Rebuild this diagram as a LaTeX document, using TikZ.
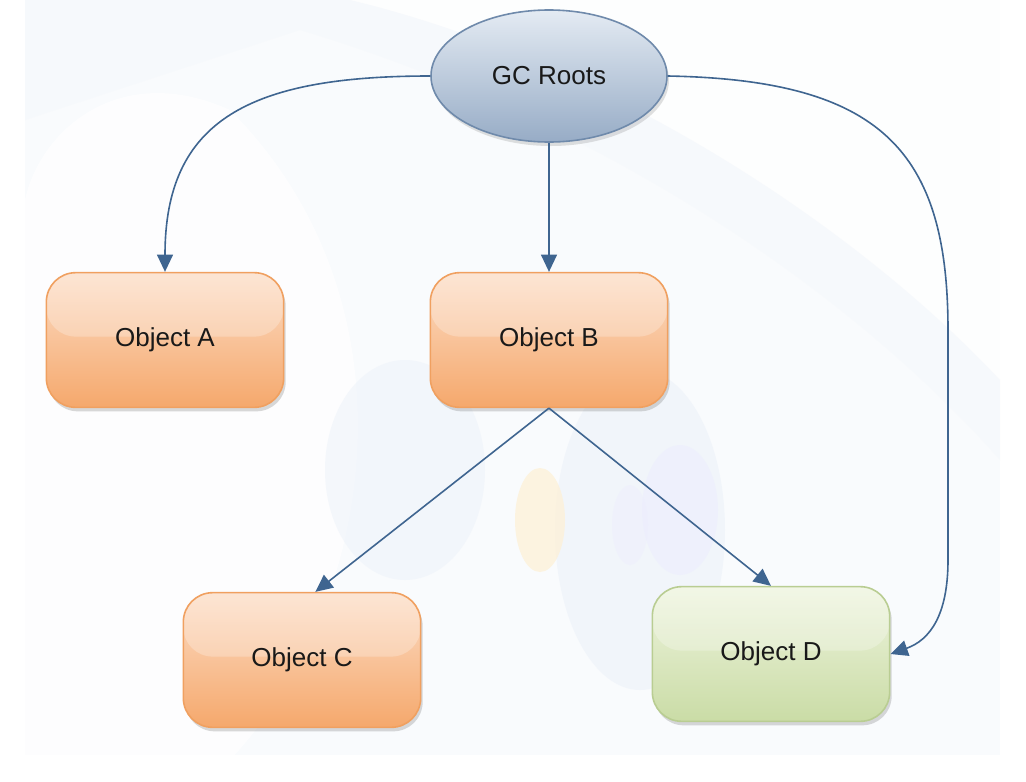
\documentclass[tikz,border=0pt]{standalone}
\usepackage{fontspec}
\setmainfont{Liberation Sans}
\usetikzlibrary{shapes.geometric,arrows.meta,shadows}
\definecolor{linec}{HTML}{3F6590}
\definecolor{ellb}{HTML}{6F8AAB}
\definecolor{ellt}{HTML}{E4EBF3}
\definecolor{ellbot}{HTML}{97ACC6}
\definecolor{orb}{HTML}{F0A060}
\definecolor{ort}{HTML}{FCDDC6}
\definecolor{orbot}{HTML}{F5A86C}
\definecolor{grb}{HTML}{B9CD92}
\definecolor{grt}{HTML}{EEF4DE}
\definecolor{grbot}{HTML}{CADCA6}
\definecolor{bgblue}{HTML}{EEF3FA}
\tikzset{
  lbl/.style={font=\fontsize{19.5}{23}\selectfont, text=black!90},
  gloss/.style={path picture={\fill[white,opacity=0.25] (path picture bounding box.north west) rectangle ([yshift=-0.47*102pt]path picture bounding box.north east);}},
  objbox/.style={lbl, rectangle, rounded corners=22pt, minimum width=178pt, minimum height=101pt, line width=1.2pt, gloss,
    drop shadow={shadow xshift=1.5pt, shadow yshift=-3pt, opacity=0.25, fill=black!60}},
  orangebox/.style={objbox, draw=orb, top color=ort, bottom color=orbot},
  greenbox/.style={objbox, draw=grb, top color=grt, bottom color=grbot},
  rootell/.style={lbl, ellipse, inner sep=0pt, minimum width=177pt, minimum height=99pt, line width=1.2pt, draw=ellb, top color=ellt, bottom color=ellbot,
    drop shadow={shadow xshift=1.5pt, shadow yshift=-3pt, opacity=0.2, fill=black!60}},
  conn/.style={draw=linec, line width=1.2pt, -{Triangle[length=13pt,width=12pt]}, color=linec},
}
\begin{document}
\begin{tikzpicture}[x=0.75pt,y=-0.75pt]
\useasboundingbox (0,0) rectangle (1026,782);
% faint background
\fill[white] (0,0) rectangle (1026,782);
\fill[bgblue!35] (25,0) rectangle (1000,755);
\fill[white,opacity=0.8] (1000,380) .. controls (850,220) and (600,60) .. (350,0) -- (1000,0) -- cycle;
\fill[bgblue!60,opacity=0.6] (350,0) .. controls (600,60) and (850,220) .. (1000,380) -- (1000,460) .. controls (850,290) and (600,120) .. (300,30) -- (25,120) -- (25,0) -- cycle;
\fill[white,opacity=0.7] (230,760) .. controls (380,600) and (420,300) .. (230,110) .. controls (120,60) and (40,130) .. (25,200) -- (25,755) -- cycle;
\fill[bgblue,opacity=0.6] (405,470) ellipse (80 and 110);
\fill[bgblue,opacity=0.7] (640,530) ellipse (85 and 160);
\fill[bgblue!80!blue!30,opacity=0.5] (680,510) ellipse (38 and 65);
\fill[bgblue!80!blue!30,opacity=0.4] (630,525) ellipse (18 and 40);
\fill[yellow!30!orange!15,opacity=0.7] (540,520) ellipse (25 and 52);

\node[rootell] (gc) at (549,76) {GC Roots};
\node[orangebox] (a) at (165,340) {Object A};
\node[orangebox] (b) at (549,340) {Object B};
\node[orangebox] (c) at (302,660) {Object C};
\node[greenbox] (d) at (771,654) {Object D};

\draw[conn] (gc.west) .. controls (250,76) and (165,120) .. (a.north);
\draw[conn] (gc.south) -- (b.north);
\draw[conn] (b.south) -- ([xshift=10pt]c.north);
\draw[conn] (b.south) -- (d.north);
\draw[conn] (gc.east) .. controls (880,80) and (948,150) .. (948,330)
  -- (948,560) .. controls (948,615) and (930,640) .. (d.east);
\end{tikzpicture}
\end{document}
